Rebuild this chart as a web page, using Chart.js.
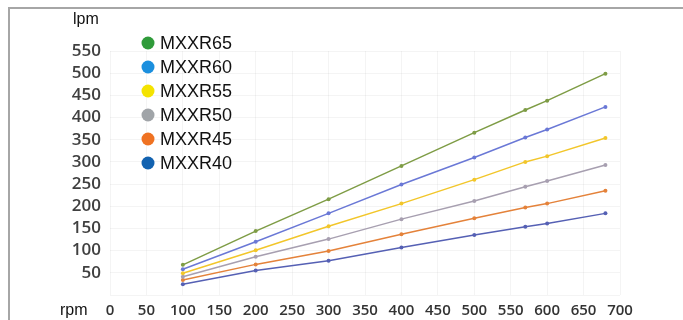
<!DOCTYPE html>
<html>
<head>
<meta charset="utf-8">
<script src="https://cdn.jsdelivr.net/npm/chart.js@4/dist/chart.umd.min.js"></script>
<style>
  html, body { margin: 0; padding: 0; background: #fff; }
  #wrap { position: relative; width: 683px; height: 320px; overflow: hidden; }
  #frame { position: absolute; left: 8px; top: 7px; width: 700px; height: 400px;
           border-top: 2px solid #a6a6a6; border-left: 2px solid #a6a6a6; }
  #chart { position: absolute; left: 0; top: 0; }
</style>
</head>
<body>
<div id="wrap">
  <div id="frame"></div>
  <canvas id="chart" width="683" height="320"></canvas>
</div>
<script>
// Data
const rpm = [100, 200, 300, 400, 500, 570, 600, 680];
const models = ['MXXR65', 'MXXR60', 'MXXR55', 'MXXR50', 'MXXR45', 'MXXR40'];
const mxxr65 = [68, 144, 216, 291, 366, 417, 438, 499];
const mxxr60 = [58, 120, 184, 249, 310, 355, 373, 424];
const mxxr55 = [49, 101, 155, 206, 260, 300, 313, 354];
const mxxr50 = [41, 86, 126, 171, 212, 244, 257, 293];
const mxxr45 = [34, 69, 99, 137, 173, 197, 206, 235];
const mxxr40 = [24, 55, 77, 107, 135, 154, 161, 184];
const seriesValues = [mxxr65, mxxr60, mxxr55, mxxr50, mxxr45, mxxr40];

// Colours: lines and legend dots differ in the original
const lineColors = ['#7e9c45', '#6a78d6', '#f2c62a', '#a79fb0', '#e4823a', '#5560b4'];
const dotColors = ['#2f9b3a', '#1b8fde', '#f4e300', '#a0a4a8', '#ef7222', '#1262b0'];

const datasets = models.map((name, i) => ({
    label: name,
    data: rpm.map((r, j) => ({ x: r, y: seriesValues[i][j] })),
    borderColor: lineColors[i],
    backgroundColor: lineColors[i],
    borderWidth: 1.5,
    pointRadius: 2,
    pointBorderWidth: 0,
    showLine: true,
    tension: 0
}));

// Legend + axis unit labels
const overlayPlugin = {
    id: 'overlay',
    afterDraw(chart) {
        const ctx = chart.ctx;
        ctx.save();
        ctx.textBaseline = 'middle';
        ctx.fillStyle = '#111';
        ctx.font = '16px "Liberation Sans", Arial, sans-serif';
        ctx.textAlign = 'left';
        ctx.fillText('lpm', 73, 20);
        ctx.fillText('rpm', 60, 311);

        ctx.font = '18px "Liberation Sans", Arial, sans-serif';
        chart.data.datasets.forEach((ds, i) => {
            const y = 43 + i * 24;
            ctx.beginPath();
            ctx.arc(148, y, 6.5, 0, Math.PI * 2);
            ctx.fillStyle = dotColors[i];
            ctx.fill();
            ctx.fillStyle = '#111';
            ctx.fillText(ds.label, 160, y + 1);
        });
        ctx.restore();
    }
};

new Chart(document.getElementById('chart'), {
    type: 'scatter',
    data: { datasets: datasets },
    options: {
        responsive: false,
        animation: false,
        layout: { padding: { top: 51, right: 63, left: 0, bottom: 0 } },
        plugins: {
            legend: { display: false },
            tooltip: { enabled: false }
        },
        scales: {
            x: {
                type: 'linear',
                min: 0,
                max: 700,
                afterFit: (scale) => { scale.height = 25; },
                ticks: {
                    stepSize: 50,
                    padding: 7,
                    maxRotation: 0,
                    autoSkip: false,
                    color: '#333',
                    font: { family: '"Open Sans", sans-serif', size: 15, weight: '600' }
                },
                grid: { color: 'rgba(0,0,0,0.045)', drawTicks: false },
                border: { display: false }
            },
            y: {
                min: 0,
                max: 550,
                afterFit: (scale) => { scale.width = 110; },
                ticks: {
                    stepSize: 50,
                    padding: 9,
                    autoSkip: false,
                    color: '#404040',
                    font: { family: '"Open Sans", sans-serif', size: 17, weight: '600' },
                    callback: (v) => (v === 0 ? '' : v)
                },
                grid: { color: 'rgba(0,0,0,0.045)', drawTicks: false },
                border: { display: false }
            }
        }
    },
    plugins: [overlayPlugin]
});
</script>
</body>
</html>
